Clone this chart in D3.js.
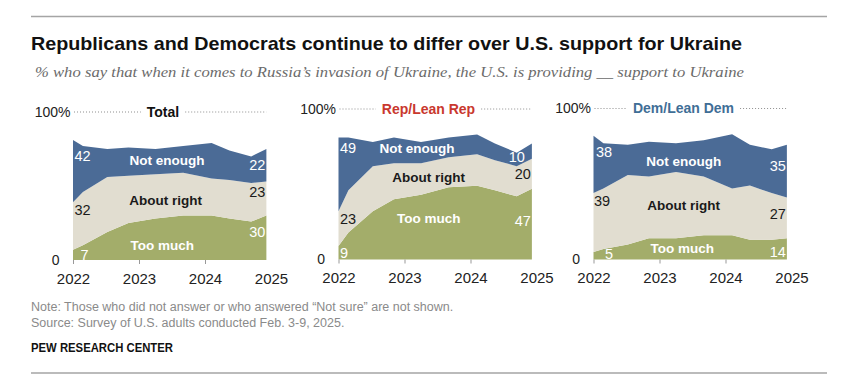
<!DOCTYPE html>
<html>
<head>
<meta charset="utf-8">
<script src="https://cdn.jsdelivr.net/npm/d3@7/dist/d3.min.js"></script>
<style>
  body { margin: 0; background: #fff; }
  svg text { font-family: "Liberation Sans", Arial, sans-serif; }
</style>
</head>
<body>
<svg id="chart" width="847" height="377"></svg>
<script>
// survey waves, as fractional years
var dates = [2022.0, 2022.15, 2022.52, 2022.84, 2023.25, 2023.67, 2024.1, 2024.37, 2024.7, 2024.93];
var yearTicks = [2022, 2023, 2024, 2025];
var seriesKeys = ["tooMuch", "aboutRight", "notEnough"];
var seriesLabels = ["Too much", "About right", "Not enough"];
var panelTitles = ["Total", "Rep/Lean Rep", "Dem/Lean Dem"];

var totalTooMuch    = [7, 10, 19, 25, 28, 30, 30, 28, 26, 30];
var totalAboutRight = [32, 36, 37, 32, 30, 29, 25, 26, 26, 23];
var totalNotEnough  = [42, 31, 19, 19, 17, 18, 24, 20, 18, 22];

var repTooMuch    = [9, 18, 32, 40, 43, 48, 49, 46, 42, 47];
var repAboutRight = [23, 28, 30, 24, 21, 20, 21, 20, 20, 20];
var repNotEnough  = [49, 35, 16, 17, 14, 13, 13, 11, 9, 10];

var demTooMuch    = [5, 7, 10, 14, 14, 16, 16, 13, 13, 14];
var demAboutRight = [39, 40, 46, 41, 44, 39, 31, 36, 31, 27];
var demNotEnough  = [38, 30, 20, 23, 19, 24, 36, 27, 29, 35];

var panelSeries = [
  [totalTooMuch, totalAboutRight, totalNotEnough],
  [repTooMuch, repAboutRight, repNotEnough],
  [demTooMuch, demAboutRight, demNotEnough]
];

var colors = { tooMuch: "#a3ad6a", aboutRight: "#e1ddd0", notEnough: "#4b6b96" };
var labelColors = { tooMuch: "#fff", aboutRight: "#1a1a1a", notEnough: "#fff" };

// panel placement
var geo = [
  { x0: 73,    base: 260,   top: 112,   titleColor: "#111" },
  { x0: 338.5, base: 259.5, top: 109,   titleColor: "#c9382e" },
  { x0: 593.5, base: 259.5, top: 108.5, titleColor: "#3f6e96" }
];
// fine placement of the in-chart labels (fraction of width, px offsets)
var areaLabelPos = [
  { notEnough: [0.485, 0], aboutRight: [0.477, 5], tooMuch: [0.46, 6] },
  { notEnough: [0.405, -4], aboutRight: [0.465, 0], tooMuch: [0.465, -8] },
  { notEnough: [0.465, 3], aboutRight: [0.465, 0], tooMuch: [0.457, 0] }
];
var numNudge = [
  { L: { notEnough: [0, 0], aboutRight: [0, 0], tooMuch: [6, 0] },
    R: { notEnough: [0, 0], aboutRight: [0, -6], tooMuch: [0, 0] } },
  { L: { notEnough: [0, -6], aboutRight: [0, 0], tooMuch: [0, 0] },
    R: { notEnough: [-6, 6], aboutRight: [0, 0], tooMuch: [0, 16] } },
  { L: { notEnough: [1, 0], aboutRight: [-1, 0], tooMuch: [10, -2] },
    R: { notEnough: [0, 5], aboutRight: [0, 0], tooMuch: [0, 3] } }
];

var svg = d3.select("#chart");

svg.append("line")
  .attr("x1", 31).attr("x2", 827).attr("y1", 16.5).attr("y2", 16.5)
  .attr("stroke", "#a5a5a5").attr("stroke-width", 1.3);

svg.append("text")
  .attr("x", 31).attr("y", 50)
  .attr("textLength", 711).attr("lengthAdjust", "spacingAndGlyphs")
  .style("font-family", "'Liberation Sans Narrow', 'Liberation Sans', Arial, sans-serif")
  .style("font-size", "19px").style("font-weight", "bold").attr("fill", "#111")
  .text("Republicans and Democrats continue to differ over U.S. support for Ukraine");

svg.append("text")
  .attr("x", 35).attr("y", 76.5)
  .attr("textLength", 709).attr("lengthAdjust", "spacingAndGlyphs")
  .style("font-family", "'Liberation Serif', 'DejaVu Serif', serif")
  .style("font-size", "15px").style("font-style", "italic").attr("fill", "#6b6b6b")
  .text("% who say that when it comes to Russia\u2019s invasion of Ukraine, the U.S. is providing __ support to Ukraine");

function interp(arr, d) {
  var i = d3.bisectRight(dates, d) - 1;
  i = Math.max(0, Math.min(dates.length - 2, i));
  var t = (d - dates[i]) / (dates[i + 1] - dates[i]);
  return arr[i] + (arr[i + 1] - arr[i]) * t;
}

panelSeries.forEach(function(series, pi) {
  var g = geo[pi];
  var x = d3.scaleLinear().domain([2022, 2025]).range([g.x0, g.x0 + 198]);
  var y = d3.scaleLinear().domain([0, 100]).range([g.base, g.top]);
  var xEnd = x(dates[dates.length - 1]);

  var rows = dates.map(function(d, j) {
    return { date: d, tooMuch: series[0][j], aboutRight: series[1][j], notEnough: series[2][j] };
  });
  var stacked = d3.stack().keys(seriesKeys)(rows);

  var area = d3.area()
    .x(function(d) { return x(d.data.date); })
    .y0(function(d) { return y(d[0]); })
    .y1(function(d) { return y(d[1]); });

  var panel = svg.append("g");

  panel.selectAll("path.band")
    .data(stacked)
    .enter().append("path")
      .attr("class", "band")
      .attr("d", area)
      .attr("fill", function(d) { return colors[d.key]; });

  // axis
  var axis = d3.axisBottom(x).tickValues(yearTicks).tickSize(4).tickPadding(9)
    .tickFormat(d3.format("d"));
  var ax = panel.append("g").attr("transform", "translate(0," + g.base + ")").call(axis);
  ax.select(".domain").remove();
  ax.selectAll(".tick line").attr("stroke", "#999");
  ax.selectAll(".tick").filter(function(d) { return d === 2025; }).select("line").remove();
  ax.selectAll(".tick text")
    .style("font-family", "'Liberation Sans', Arial, sans-serif")
    .style("font-size", "15px").attr("fill", "#222");

  // 0 and 100% labels
  panel.append("text")
    .attr("x", g.x0 - 2.5).attr("y", y(100)).attr("dy", "0.35em")
    .attr("text-anchor", "end").style("font-size", "14px").attr("fill", "#222")
    .text("100%");
  panel.append("text")
    .attr("x", g.x0 - 13.5).attr("y", y(0)).attr("dy", "0.35em")
    .attr("text-anchor", "end").style("font-size", "14px").attr("fill", "#222")
    .text("0");

  // title with dotted rule
  var title = panel.append("text")
    .attr("x", g.x0 + 90).attr("y", y(100)).attr("dy", "0.35em")
    .attr("text-anchor", "middle")
    .style("font-size", "14px").style("font-weight", "bold")
    .attr("fill", g.titleColor)
    .text(panelTitles[pi]);
  var tw = title.node().getComputedTextLength();
  [[g.x0 + 1, g.x0 + 90 - tw / 2 - 6], [g.x0 + 90 + tw / 2 + 6, xEnd]].forEach(function(s) {
    panel.append("line")
      .attr("x1", s[0]).attr("x2", s[1]).attr("y1", y(100)).attr("y2", y(100))
      .attr("stroke", "#8f8f8f").attr("stroke-width", 1).attr("stroke-dasharray", "1,2");
  });

  // series names inside the bands
  stacked.forEach(function(layer, k) {
    var key = layer.key;
    var pos = areaLabelPos[pi][key];
    var lx = g.x0 + pos[0] * 194;
    var d = x.invert(lx);
    var lo = interp(layer.map(function(v) { return v[0]; }), d);
    var hi = interp(layer.map(function(v) { return v[1]; }), d);
    panel.append("text")
      .attr("x", lx).attr("y", (y(lo) + y(hi)) / 2 + pos[1]).attr("dy", "0.35em")
      .attr("text-anchor", "middle")
      .style("font-size", "13.5px").style("font-weight", "bold")
      .attr("fill", labelColors[key])
      .text(seriesLabels[k]);
  });

  // first and last values
  ["L", "R"].forEach(function(side) {
    var j = side === "L" ? 0 : dates.length - 1;
    stacked.forEach(function(layer) {
      var key = layer.key;
      var top = y(layer[j][1]), bot = y(layer[j][0]);
      var cy = (side === "L" && key === "aboutRight") ? top + 8 : top + Math.min(16, (bot - top) / 2);
      var nd = numNudge[pi][side][key];
      panel.append("text")
        .attr("x", (side === "L" ? x(dates[0]) + 1.5 : xEnd - 1) + nd[0])
        .attr("y", cy + nd[1]).attr("dy", "0.35em")
        .attr("text-anchor", side === "L" ? "start" : "end")
        .style("font-size", "14.5px")
        .attr("fill", labelColors[key])
        .text(series[seriesKeys.indexOf(key)][j]);
    });
  });
});

// notes
svg.append("text").attr("x", 31).attr("y", 310.5)
  .style("font-size", "12.5px").attr("fill", "#8a8a8a")
  .text("Note: Those who did not answer or who answered \u201cNot sure\u201d are not shown.");
svg.append("text").attr("x", 31).attr("y", 326.5)
  .style("font-size", "12.5px").attr("fill", "#8a8a8a")
  .text("Source: Survey of U.S. adults conducted Feb. 3-9, 2025.");
svg.append("text").attr("x", 31).attr("y", 351.5)
  .attr("textLength", 142).attr("lengthAdjust", "spacingAndGlyphs")
  .style("font-size", "12.5px").style("font-weight", "bold").attr("fill", "#111")
  .text("PEW RESEARCH CENTER");

svg.append("line")
  .attr("x1", 31).attr("x2", 827).attr("y1", 373).attr("y2", 373)
  .attr("stroke", "#a5a5a5").attr("stroke-width", 1.3);
</script>
</body>
</html>
